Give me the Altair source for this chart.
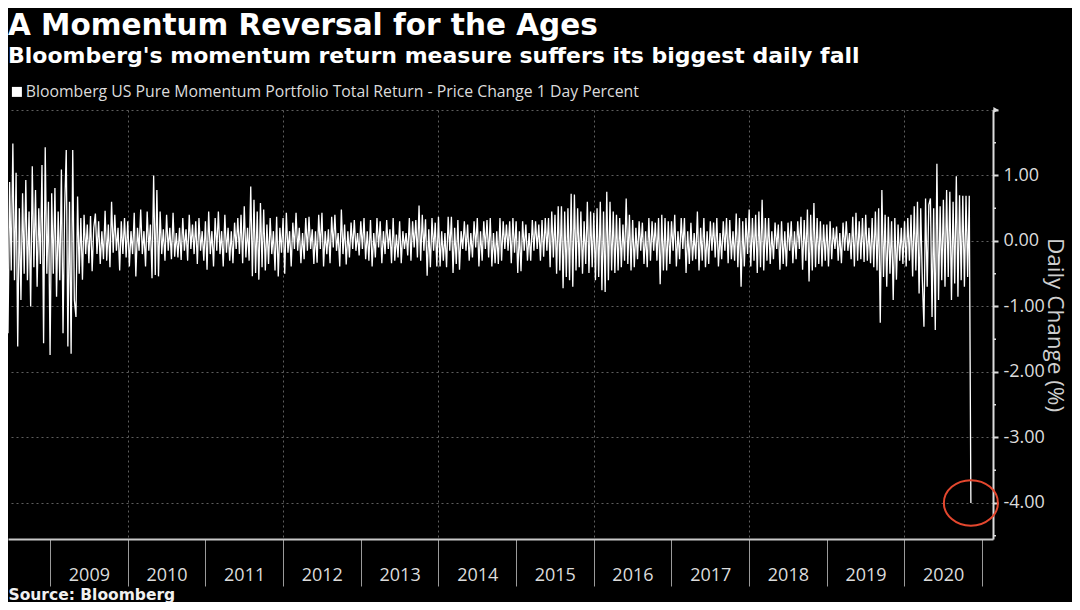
import altair as alt
import numpy as np
import pandas as pd

SERIES = "Bloomberg US Pure Momentum Portfolio Total Return - Price Change 1 Day Percent"
TITLE = "A Momentum Reversal for the Ages"
SUBTITLE = "Bloomberg's momentum return measure suffers its biggest daily fall"
SOURCE = "Source: Bloomberg"
Y_TITLE = "Daily Change (%)"

v2008 = [-1.41, 0.90, -0.45, 1.49, -0.60, 1.04, -1.61, 0.50, -0.90, 0.73, -0.50, 0.93, -0.60,
         0.45, -1.00, 1.14, -0.40, 0.78, -0.70, 0.50, -0.35, 1.16, -1.56, 1.43, -0.50, 0.60]
v2009 = [-1.74, 0.73, -0.50, 0.81, -0.85, 0.45, -0.60, 1.09, -1.41, 0.50, 1.39, -1.61,
         0.60, -1.72, 1.39, -0.90, -1.16, 0.68, -0.50, 0.35, -0.59, 0.40, -0.20, 0.25,
         -0.34, 0.38, -0.46, 0.20, 0.42, -0.20, 0.30, -0.35, 0.15, -0.28, 0.46, -0.30,
         0.25, -0.40, 0.60, -0.18, 0.40, -0.15, 0.20, -0.45, 0.30, -0.20, 0.35, -0.25]
v2010 = [0.30, -0.39, 0.15, -0.20, 0.43, -0.54, 0.20, -0.15, 0.48, -0.20, 0.15, -0.39,
         0.45, -0.15, 0.25, -0.57, 1.00, -0.52, 0.78, -0.54, 0.45, -0.20, 0.18, -0.30,
         0.40, -0.15, 0.20, -0.28, 0.43, -0.24, 0.12, -0.25, 0.20, -0.29, 0.35, -0.15,
         0.18, -0.30, 0.40, -0.12, 0.25, -0.20, 0.30, -0.35, 0.35, -0.15, 0.15, -0.30]
v2011 = [0.30, -0.44, 0.45, -0.20, 0.15, -0.39, 0.35, -0.15, 0.45, -0.20, 0.15, -0.39,
         0.40, -0.18, 0.20, -0.30, 0.15, -0.34, 0.28, -0.12, 0.35, -0.20, 0.40, -0.34,
         0.53, -0.25, 0.20, -0.30, 0.83, -0.54, 0.63, -0.49, 0.45, -0.59, 0.58, -0.40,
         0.48, -0.45, 0.25, -0.35, 0.35, -0.20, 0.15, -0.45, 0.37, -0.54, 0.20, -0.18]
v2012 = [0.35, -0.50, 0.43, -0.18, 0.15, -0.39, 0.28, -0.12, 0.43, -0.15, 0.20, -0.34,
         0.12, -0.28, 0.35, -0.15, 0.37, -0.12, 0.18, -0.35, 0.15, -0.33, 0.40, -0.12,
         0.43, -0.39, 0.15, -0.20, 0.18, -0.34, 0.37, -0.10, 0.40, -0.15, 0.12, -0.39,
         0.48, -0.20, 0.25, -0.36, 0.15, -0.25, 0.28, -0.12, 0.32, -0.15, 0.12, -0.22]
v2013 = [0.30, -0.12, 0.35, -0.28, 0.15, -0.30, 0.32, -0.39, 0.12, -0.25, 0.35, -0.10,
         0.30, -0.34, 0.15, -0.20, 0.32, -0.12, 0.18, -0.34, 0.35, -0.30, 0.10, -0.25,
         0.30, -0.34, 0.15, -0.12, 0.12, -0.22, 0.35, -0.30, 0.30, -0.10, 0.32, -0.25,
         0.54, -0.30, 0.40, -0.15, 0.33, -0.53, 0.18, -0.40, 0.35, -0.15, 0.28, -0.39]
v2014 = [0.37, -0.39, 0.15, -0.30, 0.12, -0.40, 0.37, -0.15, 0.37, -0.49, 0.20, -0.35,
         0.32, -0.44, 0.15, -0.12, 0.30, -0.15, 0.25, -0.30, 0.12, -0.25, 0.30, -0.10,
         0.35, -0.39, 0.15, -0.30, 0.30, -0.12, 0.32, -0.25, 0.35, -0.39, 0.12, -0.34,
         0.15, -0.35, 0.35, -0.30, 0.30, -0.12, 0.25, -0.15, 0.30, -0.34, 0.35, -0.18]
v2015 = [0.30, -0.49, 0.15, -0.46, 0.30, -0.15, 0.25, -0.30, 0.12, -0.30, 0.32, -0.15,
         0.30, -0.12, 0.25, -0.30, 0.32, -0.24, 0.35, -0.15, 0.35, -0.40, 0.45, -0.25,
         0.40, -0.50, 0.53, -0.45, 0.53, -0.72, 0.45, -0.55, 0.50, -0.60, 0.72, -0.70,
         0.71, -0.45, 0.50, -0.40, 0.45, -0.50, 0.30, -0.35, 0.60, -0.49, 0.45, -0.40]
v2016 = [0.43, -0.60, 0.50, -0.55, 0.60, -0.75, 0.45, -0.78, 0.75, -0.60, 0.60, -0.45,
         0.45, -0.49, 0.40, -0.45, 0.35, -0.40, 0.25, -0.30, 0.65, -0.35, 0.40, -0.45,
         0.32, -0.40, 0.20, -0.28, 0.30, -0.15, 0.28, -0.35, 0.15, -0.40, 0.35, -0.30,
         0.30, -0.15, 0.28, -0.30, 0.35, -0.66, 0.40, -0.45, 0.35, -0.45, 0.30, -0.35]
v2017 = [0.30, -0.15, 0.40, -0.39, 0.15, -0.28, 0.35, -0.12, 0.35, -0.49, 0.15, -0.35,
         0.28, -0.30, 0.12, -0.28, 0.45, -0.45, 0.20, -0.30, 0.35, -0.40, 0.15, -0.35,
         0.30, -0.15, 0.28, -0.25, 0.35, -0.39, 0.12, -0.28, 0.30, -0.15, 0.35, -0.34,
         0.32, -0.28, 0.15, -0.30, 0.42, -0.40, 0.35, -0.70, 0.30, -0.39, 0.35, -0.20]
v2018 = [0.48, -0.39, 0.35, -0.30, 0.40, -0.49, 0.45, -0.40, 0.63, -0.45, 0.35, -0.30,
         0.35, -0.35, 0.15, -0.28, 0.28, -0.12, 0.25, -0.44, 0.30, -0.35, 0.15, -0.39,
         0.28, -0.15, 0.30, -0.34, 0.15, -0.28, 0.30, -0.12, 0.37, -0.44, 0.32, -0.30,
         0.48, -0.62, 0.40, -0.45, 0.58, -0.40, 0.35, -0.35, 0.30, -0.39, 0.25, -0.30]
v2019 = [0.25, -0.39, 0.30, -0.28, 0.20, -0.12, 0.22, -0.30, 0.12, -0.34, 0.28, -0.15,
         0.30, -0.15, 0.12, -0.28, 0.37, -0.39, 0.43, -0.30, 0.30, -0.28, 0.35, -0.32,
         0.40, -0.30, 0.20, -0.34, 0.35, -0.40, 0.45, -0.45, 0.50, -1.25, 0.78, -0.55,
         0.40, -0.70, 0.37, -0.50, 0.30, -0.90, 0.35, -0.59, 0.25, -0.30, 0.20, -0.35]
v2020 = [0.30, -0.39, 0.35, -0.30, 0.40, -0.54, 0.53, -0.45, 0.60, -0.80, 0.50, -0.60,
         -1.31, 0.65, -0.70, 0.55, 0.65, -1.16, 0.50, -1.36, 1.18, -0.90, 0.53, -0.60,
         0.63, -0.70, 0.78, -0.55, 0.75, -0.90, 0.60, -0.65, 0.99, -0.85, 0.70, -0.60,
         0.69, -0.70, 0.69, -0.55, 0.69, -4.00]

START = "2008-06-17"
END = "2020-11-09"
AXIS_START = (2008, 6, 17)
AXIS_END = (2021, 2, 21)
YEARS = list(range(2009, 2022))
Y_MAJOR = [-4, -3, -2, -1, 0, 1, 2]
Y_MINOR = [-4.5, -3.5, -2.5, -1.5, -0.5, 0.5, 1.5]
Y_TOP = [2.0]

values = (v2008 + v2009 + v2010 + v2011 + v2012 + v2013 + v2014 + v2015 + v2016
          + v2017 + v2018 + v2019 + v2020)
stamps = np.linspace(pd.Timestamp(START).value, pd.Timestamp(END).value, len(values))
dates = pd.to_datetime(stamps).strftime("%Y-%m-%dT%H:%M:%S")

df = pd.DataFrame({"date": dates, "value": values, "series": SERIES})
low = df.loc[[df["value"].idxmin()]]
minor_df = pd.DataFrame({"value": Y_MINOR})
top_df = pd.DataFrame({"value": Y_TOP})

W, H = 985, 429
FONT = "Open Sans"
BOLD = "DejaVu Sans"
GRID = "#5e5e5e"
LIGHT = "#dcdcdc"

x_scale = alt.Scale(domain=[alt.DateTime(year=AXIS_START[0], month=AXIS_START[1], date=AXIS_START[2]),
                            alt.DateTime(year=AXIS_END[0], month=AXIS_END[1], date=AXIS_END[2])])
y_scale = alt.Scale(domain=[-4.55, 2.0], nice=False, zero=False)

x_axis = alt.Axis(
    values=[alt.DateTime(year=y, month=1, date=1) for y in YEARS],
    labelExpr="year(datum.value) < 2021 ? timeFormat(datum.value, '%Y') : ''",
    labelAlign="center", labelBaseline="middle", labelOffset=38.8, labelPadding=-11,
    labelFont=FONT, labelFontSize=18, labelColor=LIGHT,
    labelFlush=False, labelOverlap=False, labelBound=False,
    tickSize=47, tickColor="#9a9a9a", tickWidth=1,
    domainColor="#c8c8c8", domainWidth=2,
    grid=True, gridColor=GRID, gridDash=[2, 3], gridWidth=1,
    gridOpacity=alt.condition("year(datum.value) % 2 == 0", alt.value(1), alt.value(0)),
    title=SOURCE, titleFont=BOLD, titleFontSize=15.5, titleFontWeight="bold",
    titleColor="#f0f0f0", titleAnchor="start", titleAlign="left",
    titleBaseline="alphabetic", titleX=0, titleY=60,
)

y_axis = alt.Axis(
    orient="right", values=Y_MAJOR,
    labelExpr="datum.value < 2 ? (datum.value < 0 ? '-' : '') + format(abs(datum.value), '.2f') : ''",
    labelFont=FONT, labelFontSize=18, labelColor=LIGHT, labelPadding=5,
    labelAlign="left", labelBaseline="middle", labelFlush=False, labelOverlap=False,
    tickSize=5, tickColor=LIGHT, tickWidth=2,
    domainColor=LIGHT, domainWidth=2,
    grid=True, gridColor=GRID, gridDash=[2, 3], gridWidth=1,
    title=Y_TITLE, titleFont=FONT, titleFontSize=22.5, titleFontWeight="normal",
    titleColor="#cfcfcf", titleAngle=90, titleX=61, titleY=H / 2,
    titleAlign="center", titleBaseline="middle",
)

X = alt.X("date:T", scale=x_scale, axis=x_axis)
Y = alt.Y("value:Q", scale=y_scale, axis=y_axis)

line = alt.Chart(df).mark_line(color="#ffffff", strokeWidth=1.3, strokeJoin="bevel").encode(x=X, y=Y)

minor = alt.Chart(minor_df).mark_rule(color=LIGHT, strokeWidth=1.5).encode(
    x=alt.value(W), x2=alt.value(W + 3), y=Y
)

ellipse_path = ("M 1 0 C 1 0.4667 0.5523 0.845 0 0.845 C -0.5523 0.845 -1 0.4667 -1 0 "
                "C -1 -0.4667 -0.5523 -0.845 0 -0.845 C 0.5523 -0.845 1 -0.4667 1 0 Z")
ring = alt.Chart(low).mark_point(
    shape=ellipse_path, size=54 * 54, filled=False, stroke="#e4472e", strokeWidth=2, opacity=1
).encode(x=X, y=Y)

legend_mark = alt.Chart(low).mark_square(opacity=0, filled=True).encode(
    x=X, y=Y,
    color=alt.Color("series:N", scale=alt.Scale(range=["#ffffff"]),
                    legend=alt.Legend(orient="none", legendX=1, legendY=-26, title=None,
                                      symbolType="square", symbolSize=100, symbolOpacity=1,
                                      symbolStrokeWidth=0, labelFont=FONT, labelFontSize=15.8,
                                      labelColor=LIGHT, labelOffset=1, labelLimit=0, padding=0)),
)

arrow = alt.Chart(top_df).mark_point(shape="triangle-right", filled=True, color=LIGHT, size=36, opacity=1).encode(
    x=alt.value(W + 3), y=Y
)

chart = alt.layer(line, minor, ring, legend_mark, arrow).properties(
    width=W, height=H,
    padding={"left": 0, "top": 102, "right": 79, "bottom": 63},
    autosize=alt.AutoSizeParams(type="none"),
    background="#000000",
    title=alt.TitleParams(
        text=TITLE, subtitle=SUBTITLE, anchor="start", frame="group",
        font=BOLD, fontSize=29.5, fontWeight="bold", color="#ffffff",
        subtitleFont=BOLD, subtitleFontSize=22, subtitleFontWeight="bold",
        subtitleColor="#ffffff", subtitlePadding=5, offset=16,
    ),
).configure_view(stroke=None)

chart.save("out.html", embed_options={"renderer": "svg", "actions": False})
